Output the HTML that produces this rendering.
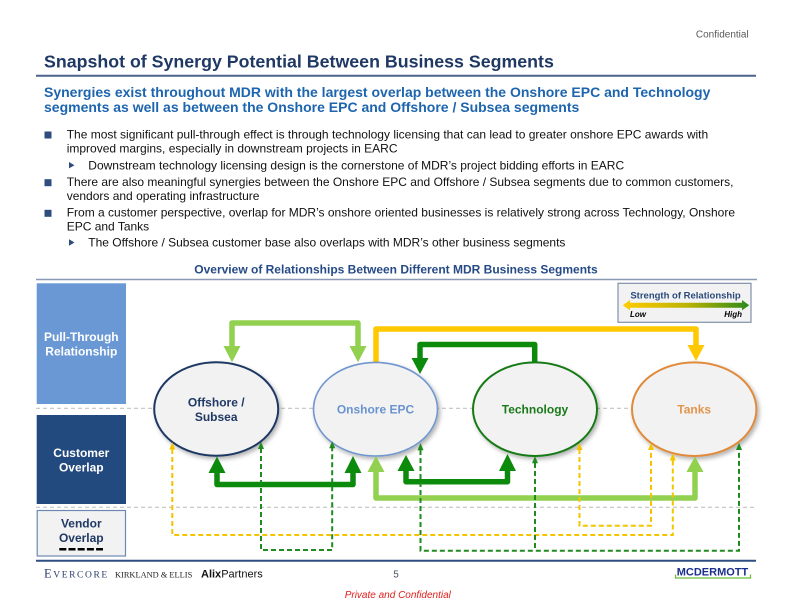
<!DOCTYPE html>
<html>
<head>
<meta charset="utf-8">
<style>
  html,body{margin:0;padding:0;background:#fff;}
  svg{display:block;}
</style>
</head>
<body>
<svg width="792" height="612" viewBox="0 0 792 612" xmlns="http://www.w3.org/2000/svg" font-family="'Liberation Sans', Arial, sans-serif">
  <defs>
    <filter id="sh" x="-20%" y="-20%" width="150%" height="150%">
      <feDropShadow dx="2" dy="2.5" stdDeviation="2" flood-color="#000" flood-opacity="0.3"/>
    </filter>
    <linearGradient id="lg" x1="0" x2="1" y1="0" y2="0">
      <stop offset="0" stop-color="#ffcc00"/>
      <stop offset="0.5" stop-color="#bdb400"/>
      <stop offset="1" stop-color="#2a8a1a"/>
    </linearGradient>
  </defs>

  <!-- Header -->
  <text x="748.7" y="37.5" font-size="10" fill="#595959" text-anchor="end">Confidential</text>
  <text x="44" y="67.3" font-size="17.8" font-weight="bold" fill="#1f3864">Snapshot of Synergy Potential Between Business Segments</text>
  <line x1="36" y1="75.7" x2="756" y2="75.7" stroke="#4d6489" stroke-width="2"/>
  <text x="44" y="96.8" font-size="14" font-weight="bold" fill="#1d65ae">Synergies exist throughout MDR with the largest overlap between the Onshore EPC and Technology</text>
  <text x="44" y="111.8" font-size="14" font-weight="bold" fill="#1d65ae">segments as well as between the Onshore EPC and Offshore / Subsea segments</text>

  <!-- Bullets -->
  <g font-size="12" fill="#111">
    <rect x="44.5" y="131.5" width="7" height="7" fill="#2e4c7e"/>
    <text x="66.7" y="138.3">The most significant pull-through effect is through technology licensing that can lead to greater onshore EPC awards with</text>
    <text x="66.7" y="152.3">improved margins, especially in downstream projects in EARC</text>
    <polygon points="69,162 69,168.4 74.5,165.2" fill="#2e4c7e"/>
    <text x="88.3" y="169.3">Downstream technology licensing design is the cornerstone of MDR’s project bidding efforts in EARC</text>
    <rect x="44.5" y="179.2" width="7" height="7" fill="#2e4c7e"/>
    <text x="66.7" y="186">There are also meaningful synergies between the Onshore EPC and Offshore / Subsea segments due to common customers,</text>
    <text x="66.7" y="200">vendors and operating infrastructure</text>
    <rect x="44.5" y="209.8" width="7" height="7" fill="#2e4c7e"/>
    <text x="66.7" y="216.6">From a customer perspective, overlap for MDR’s onshore oriented businesses is relatively strong across Technology, Onshore</text>
    <text x="66.7" y="230.6">EPC and Tanks</text>
    <polygon points="69,239.3 69,245.7 74.5,242.5" fill="#2e4c7e"/>
    <text x="88.3" y="246.6">The Offshore / Subsea customer base also overlaps with MDR’s other business segments</text>
  </g>

  <!-- Diagram heading -->
  <text x="396" y="273.3" font-size="12" font-weight="bold" fill="#254a86" text-anchor="middle">Overview of Relationships Between Different MDR Business Segments</text>
  <line x1="36" y1="279.5" x2="757" y2="279.5" stroke="#8a9ab5" stroke-width="1.5"/>

  <!-- Row labels -->
  <rect x="36.7" y="283.3" width="89.3" height="120.7" fill="#6a98d4"/>
  <text x="81.3" y="341" font-size="12" font-weight="bold" fill="#fff" text-anchor="middle">Pull-Through</text>
  <text x="81.3" y="355.3" font-size="12" font-weight="bold" fill="#fff" text-anchor="middle">Relationship</text>

  <rect x="36.7" y="415" width="89.3" height="89" fill="#234a7e"/>
  <text x="81.3" y="457" font-size="12" font-weight="bold" fill="#fff" text-anchor="middle">Customer</text>
  <text x="81.3" y="471.6" font-size="12" font-weight="bold" fill="#fff" text-anchor="middle">Overlap</text>

  <rect x="37.2" y="510.5" width="88.3" height="45.5" fill="#f2f2f2" stroke="#6d89b0" stroke-width="1.2"/>
  <text x="81.3" y="527.6" font-size="12" font-weight="bold" fill="#1f3864" text-anchor="middle">Vendor</text>
  <text x="81.3" y="542" font-size="12" font-weight="bold" fill="#1f3864" text-anchor="middle">Overlap</text>
  <line x1="59.3" y1="549.2" x2="103" y2="549.2" stroke="#000" stroke-width="2.5" stroke-dasharray="7 2.2"/>

  <!-- Gray dashed separators -->
  <line x1="36" y1="408.3" x2="757" y2="408.3" stroke="#c4c4c4" stroke-width="1.2" stroke-dasharray="4 3"/>
  <line x1="36" y1="507.3" x2="757" y2="507.3" stroke="#c4c4c4" stroke-width="1.2" stroke-dasharray="4 3"/>

  <!-- Legend -->
  <rect x="618" y="283.3" width="133" height="39" fill="#f2f2f2" stroke="#8090a8" stroke-width="1.2"/>
  <text x="685.5" y="298.5" font-size="9.5" font-weight="bold" fill="#2a4a7c" text-anchor="middle">Strength of Relationship</text>
  <polygon points="622.8,305.2 630,300 630,302.7 742,302.7 742,300 749.2,305.2 742,310.4 742,307.7 630,307.7 630,310.4" fill="url(#lg)"/>
  <text x="630" y="317" font-size="8" font-weight="bold" font-style="italic" fill="#000">Low</text>
  <text x="742" y="317" font-size="8" font-weight="bold" font-style="italic" fill="#000" text-anchor="end">High</text>

  <!-- Thick pull-through connectors -->
  <g fill="none" stroke-width="5.5" stroke-linejoin="round">
    <path d="M232,348 V323 H358 V348" stroke="#92d050"/>
    <path d="M376,364 V329 H696 V347" stroke="#ffc800"/>
    <path d="M534.7,364 V344.5 H420 V360" stroke="#0b8a0b"/>
  </g>
  <polygon points="223.5,346 240.5,346 232,362.3" fill="#92d050"/>
  <polygon points="349.5,346 366.5,346 358,362.3" fill="#92d050"/>
  <polygon points="687.5,345 704.5,345 696,361" fill="#ffc800"/>
  <polygon points="411.5,358 428.5,358 420,374" fill="#0b8a0b"/>

  <!-- Ellipses -->
  <g filter="url(#sh)">
    <ellipse cx="216.2" cy="409" rx="62" ry="46.7" fill="#f2f2f2" stroke="#1f3864" stroke-width="2"/>
    <ellipse cx="375.5" cy="409.2" rx="62" ry="46.8" fill="#f2f2f2" stroke="#7097cf" stroke-width="1.6"/>
    <ellipse cx="535" cy="409.2" rx="62" ry="46.8" fill="#f2f2f2" stroke="#177a17" stroke-width="2"/>
    <ellipse cx="694.2" cy="409.2" rx="62.2" ry="46.8" fill="#f2f2f2" stroke="#e08a3a" stroke-width="2"/>
  </g>
  <text x="216.2" y="406.6" font-size="12" font-weight="bold" fill="#1f3864" text-anchor="middle">Offshore /</text>
  <text x="216.2" y="421" font-size="12" font-weight="bold" fill="#1f3864" text-anchor="middle">Subsea</text>
  <text x="375.5" y="413.6" font-size="12" font-weight="bold" fill="#6a93d0" text-anchor="middle">Onshore EPC</text>
  <text x="535" y="413.6" font-size="12" font-weight="bold" fill="#1a7a1a" text-anchor="middle">Technology</text>
  <text x="694.2" y="413.6" font-size="12" font-weight="bold" fill="#e3944c" text-anchor="middle">Tanks</text>

  <!-- Thick customer-overlap connectors -->
  <g fill="none" stroke-width="5.5" stroke-linejoin="round">
    <path d="M217,472 V484.5 H353 V472" stroke="#0b8a0b"/>
    <path d="M406,470 V481.7 H507.5 V470" stroke="#0b8a0b"/>
    <path d="M376,472 V498 H695 V472" stroke="#92d050"/>
  </g>
  <polygon points="208.5,473 225.5,473 217,456.5" fill="#0b8a0b"/>
  <polygon points="344.5,473 361.5,473 353,456" fill="#0b8a0b"/>
  <polygon points="397.5,471 414.5,471 406,455" fill="#0b8a0b"/>
  <polygon points="499,471 516,471 507.5,454" fill="#0b8a0b"/>
  <polygon points="367.5,472 384.5,472 376,456" fill="#92d050"/>
  <polygon points="686.5,472 703.5,472 695,456.5" fill="#92d050"/>

  <!-- Dashed vendor-overlap connectors -->
  <g fill="none" stroke-width="2" stroke-dasharray="5 3">
    <path d="M172.3,449 V535 H672.8 V460" stroke="#f5c400"/>
    <path d="M579.5,449 V525.7 H651 V449" stroke="#f5c400"/>
    <path d="M261,448 V550 H332.2 V448" stroke="#1f8a1f"/>
    <path d="M420.5,450 V550.7 H739 V449" stroke="#1f8a1f"/>
    <path d="M535,463 V550.7" stroke="#1f8a1f"/>
  </g>
  <g>
    <polygon points="169.3,449.5 175.3,449.5 172.3,442.3" fill="#f5c400"/>
    <polygon points="669.8,460.5 675.8,460.5 672.8,453.3" fill="#f5c400"/>
    <polygon points="576.5,450 582.5,450 579.5,442.7" fill="#f5c400"/>
    <polygon points="648,450 654,450 651,443" fill="#f5c400"/>
    <polygon points="258,449 264,449 261,441.7" fill="#1f8a1f"/>
    <polygon points="329.2,448.3 335.2,448.3 332.2,441" fill="#1f8a1f"/>
    <polygon points="417.5,450.3 423.5,450.3 420.5,443" fill="#1f8a1f"/>
    <polygon points="532,463.3 538,463.3 535,456" fill="#1f8a1f"/>
    <polygon points="736,450 742,450 739,442.7" fill="#1f8a1f"/>
  </g>

  <!-- Footer -->
  <line x1="36" y1="560.8" x2="756" y2="560.8" stroke="#2f4d80" stroke-width="2"/>
  <text x="44" y="577.3" font-family="'Liberation Serif', 'Times New Roman', serif" fill="#2c3e6b" letter-spacing="1.6"><tspan font-size="12.5">E</tspan><tspan font-size="9.5">VERCORE</tspan></text>
  <text x="115" y="577.3" font-family="'Liberation Serif', 'Times New Roman', serif" font-size="8.4" fill="#222">KIRKLAND &amp; ELLIS</text>
  <text x="201" y="577.5" font-size="11" fill="#111"><tspan font-weight="bold">Alix</tspan>Partners</text>
  <text x="396" y="577.5" font-size="10" fill="#44546a" text-anchor="middle">5</text>
  <text x="712.5" y="575.7" font-size="11" font-weight="bold" fill="#1b2f8a" text-anchor="middle">MCDERMOTT</text>
  <polyline points="675.5,574.5 675.5,578 750.5,578 750.5,574.5" fill="none" stroke="#6cbf3a" stroke-width="1.3"/>
  <text x="397.8" y="598" font-size="10" font-style="italic" fill="#e0201b" text-anchor="middle">Private and Confidential</text>
</svg>
</body>
</html>
